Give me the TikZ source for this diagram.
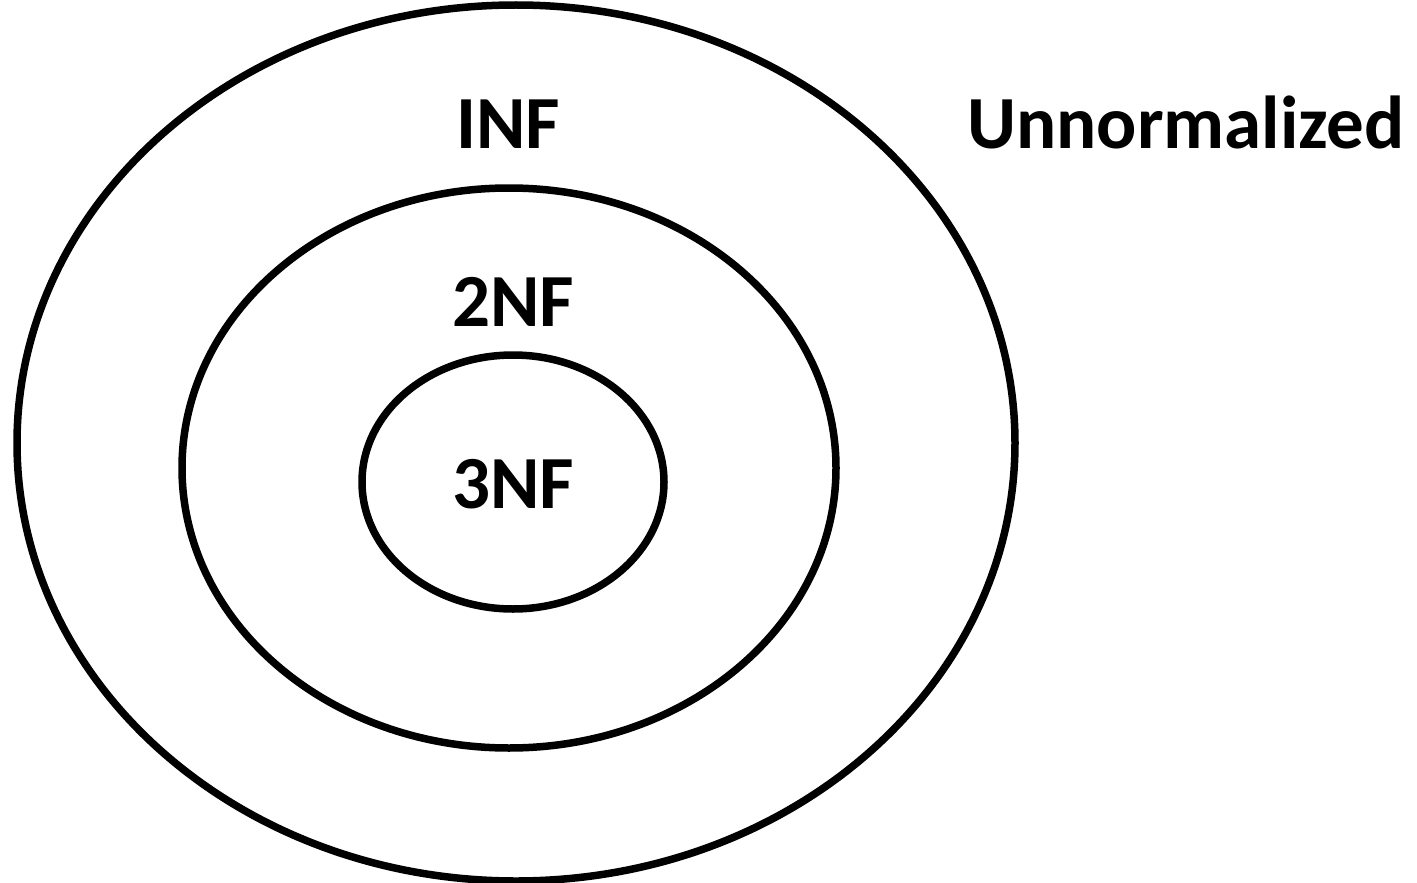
\documentclass[tikz,border=0pt]{standalone}
\usepackage{fontspec}
\setmainfont{Carlito}
\begin{document}
\begin{tikzpicture}[x=1pt,y=-1pt,
  ring/.style={draw=black,line width=7.5pt},
  lbl/.style={font=\fontsize{75}{86}\selectfont\bfseries,inner sep=0pt,anchor=base}]
\useasboundingbox (0,0) rectangle (1417,883);
\draw[ring] (516,443) ellipse [x radius=499,y radius=438];
\draw[ring] (509,468) ellipse [x radius=327,y radius=280];
\draw[ring] (513,482) ellipse [x radius=151,y radius=127];
\node[lbl] (inf) at (508,148) {INF};
\node[lbl] (twonf) at (513,326) {2NF};
\node[lbl] (threenf) at (513,508) {3NF};
\node[lbl] (unn) at (1186,148) {Unnormalized};
\end{tikzpicture}
\end{document}
